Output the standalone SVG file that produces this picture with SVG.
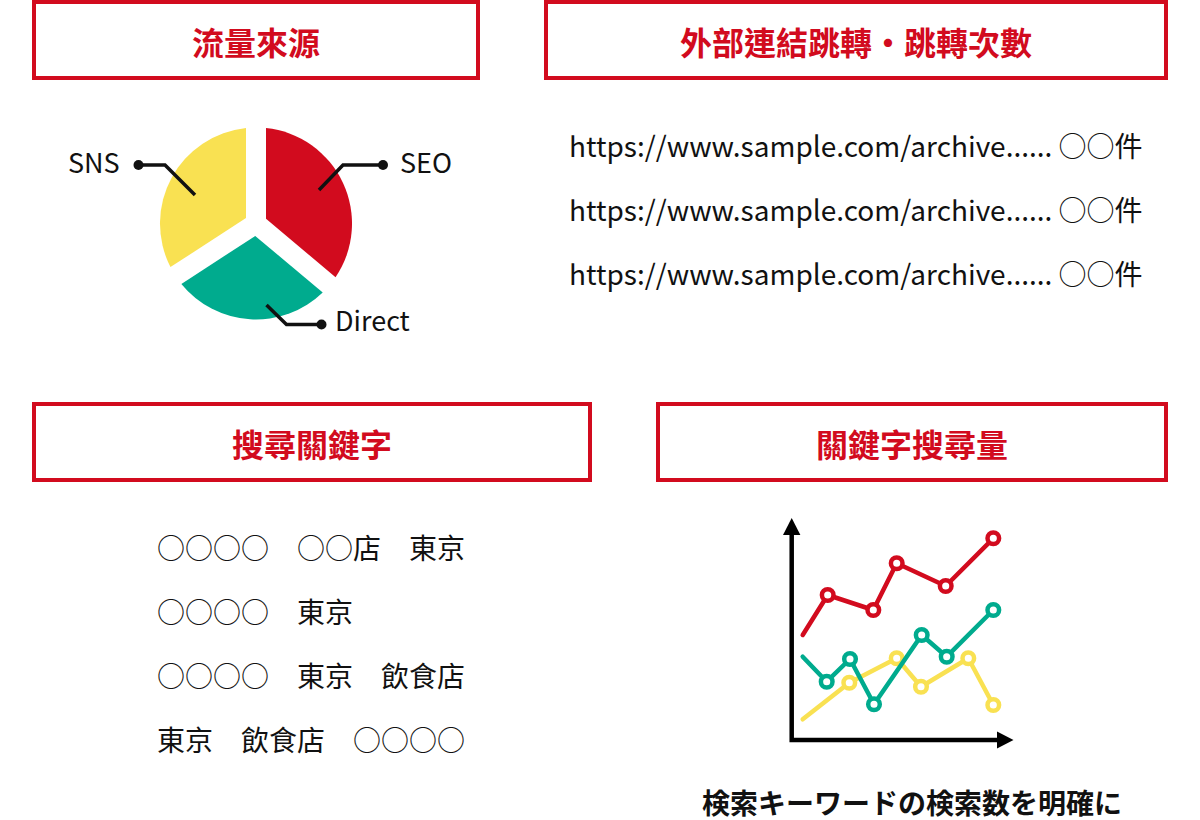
<svg xmlns="http://www.w3.org/2000/svg" width="1200" height="820" viewBox="0 0 1200 820">
<style>
.hbox{fill:#fff;stroke:#D20B1E;stroke-width:4}
.htxt{font-family:"Noto Sans CJK TC","Noto Sans CJK JP",sans-serif;font-weight:700;font-size:32px;fill:#D20B1E;text-anchor:middle}
.body{font-family:"Noto Sans CJK TC","Noto Sans CJK JP",sans-serif;font-size:28px;fill:#111}
.lbl{font-family:"Noto Sans CJK TC",sans-serif;font-size:27px;fill:#111}
.lead{fill:none;stroke:#111;stroke-width:3.5}
.axis{fill:none;stroke:#000;stroke-width:4.5}
.ln{fill:none;stroke-width:4.5;stroke-linecap:round;stroke-linejoin:round}
.pt{fill:#fff;stroke-width:4.5}
.r{stroke:#D20B1E}.g{stroke:#00AB8E}.y{stroke:#F9E152}
</style>
<g id="header-traffic">
<rect class="hbox" x="34" y="2" width="444" height="76"/>
<text class="htxt" x="256" y="55">流量來源</text>
</g>
<g id="header-links">
<rect class="hbox" x="546" y="2" width="620" height="76"/>
<text class="htxt" x="856" y="55">外部連結跳轉・跳轉次數</text>
</g>
<g id="header-keywords">
<rect class="hbox" x="34" y="404" width="556" height="76"/>
<text class="htxt" x="312" y="457">搜尋關鍵字</text>
</g>
<g id="header-volume">
<rect class="hbox" x="658" y="404" width="508" height="76"/>
<text class="htxt" x="912" y="457">關鍵字搜尋量</text>
</g>
<g id="pie">
<path fill="#D20B1E" d="M266,218.84 L266,128.02 A96,96 0 0 1 335.57,277.21 Z"/>
<path fill="#00AB8E" d="M255.24,235.92 L322.71,292.53 A96,96 0 0 1 181.37,283.89 Z"/>
<path fill="#F9E152" d="M246,218.07 L170.47,267.11 A96,96 0 0 1 246,128.02 Z"/>
</g>
<g id="connectors">
<polyline class="lead" points="138.5,165 165,165 195,195"/>
<circle cx="138.5" cy="165" r="5" fill="#111"/>
<polyline class="lead" points="383,165 343,165 319,190"/>
<circle cx="383" cy="165" r="5" fill="#111"/>
<polyline class="lead" points="266.5,305 286.5,324.5 321.5,324.5"/>
<circle cx="321.5" cy="324.5" r="5" fill="#111"/>
</g>
<g id="label-sns"><text class="lbl" x="68" y="173">SNS</text></g>
<g id="label-seo"><text class="lbl" x="400" y="173">SEO</text></g>
<g id="label-direct"><text class="lbl" x="335" y="331">Direct</text></g>
<g id="link-list">
<text class="body" x="569" y="157">https://www.sample.com/archive...... ○○件</text>
<text class="body" x="569" y="221">https://www.sample.com/archive...... ○○件</text>
<text class="body" x="569" y="285">https://www.sample.com/archive...... ○○件</text>
</g>
<g id="keyword-list">
<text class="body" x="157" y="559">○○○○　○○店　東京</text>
<text class="body" x="157" y="623">○○○○　東京</text>
<text class="body" x="157" y="687">○○○○　東京　飲食店</text>
<text class="body" x="157" y="751">東京　飲食店　○○○○</text>
</g>
<g id="line-chart">
<polyline class="axis" points="791.7,528 791.7,740 1003,740"/>
<polygon points="791.7,518 783,535 800.4,535" fill="#000"/>
<polygon points="1013.5,740 997,731.5 997,748.5" fill="#000"/>
<polyline class="ln y" points="802.7,719.3 849.3,682.7 896.7,658.3 921,686.7 968.3,658.3 993.3,705"/>
<g class="pt y"><circle cx="849.3" cy="682.7" r="5.8"/><circle cx="896.7" cy="658.3" r="5.8"/><circle cx="921" cy="686.7" r="5.8"/><circle cx="968.3" cy="658.3" r="5.8"/><circle cx="993.3" cy="705" r="5.8"/></g>
<polyline class="ln g" points="802.7,656.7 826.7,681.7 850,659 874,704.3 921.7,635 946.7,656.7 993.3,610"/>
<g class="pt g"><circle cx="826.7" cy="681.7" r="5.8"/><circle cx="850" cy="659" r="5.8"/><circle cx="874" cy="704.3" r="5.8"/><circle cx="921.7" cy="635" r="5.8"/><circle cx="946.7" cy="656.7" r="5.8"/><circle cx="993.3" cy="610" r="5.8"/></g>
<polyline class="ln r" points="802.7,635 827.7,595 873.3,610 896.7,563.3 945.7,586 993.3,538.3"/>
<g class="pt r"><circle cx="827.7" cy="595" r="5.8"/><circle cx="873.3" cy="610" r="5.8"/><circle cx="896.7" cy="563.3" r="5.8"/><circle cx="945.7" cy="586" r="5.8"/><circle cx="993.3" cy="538.3" r="5.8"/></g>
</g>
<g id="caption">
<text x="912" y="814" style="font-family:'Noto Sans CJK JP',sans-serif;font-weight:700;font-size:28px;fill:#111;text-anchor:middle">検索キーワードの検索数を明確に</text>
</g>
</svg>
